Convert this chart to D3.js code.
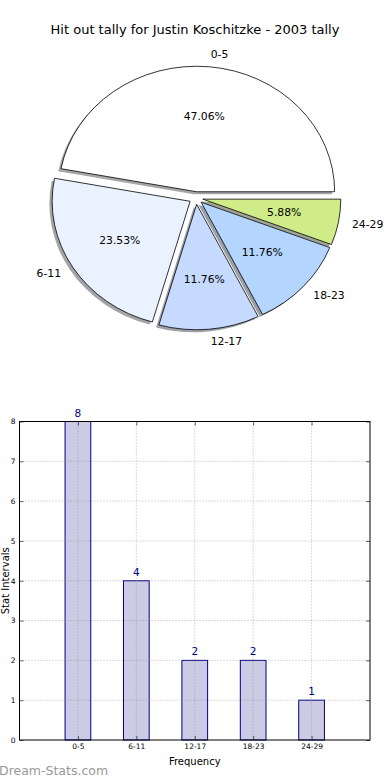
<!DOCTYPE html>
<html><head><meta charset="utf-8">
<script src="https://cdn.jsdelivr.net/npm/d3@7"></script>
<style>body{margin:0;background:#fff}svg{display:block;font-family:"DejaVu Sans",sans-serif}</style>
</head><body><svg id="c" width="390" height="780"></svg>
<script>
const title = "Hit out tally for Justin Koschitzke - 2003 tally";
const categories = ["0-5", "6-11", "12-17", "18-23", "24-29"];
const values = [8, 4, 2, 2, 1];
const pieColors = ["#ffffff", "#ebf2ff", "#c6d9ff", "#b3d5ff", "#cfec88"];
const explode = [0.05, 0.05, 0.05, 0.05, 0.05];
const yTicks = [0, 1, 2, 3, 4, 5, 6, 7, 8];
const xLabel = "Frequency";
const yLabel = "Stat Intervals";
const watermark = "Dream-Stats.com";

const svg = d3.select("#c");
svg.append("text").attr("x", 195).attr("y", 34).attr("text-anchor", "middle")
  .attr("font-size", 13).attr("fill", "#000").text(title);

// ---- Pie ----
const cx = 196, cy = 198, rx = 138, ry = 125.5;
const sum = d3.sum(values);
const arcs = d3.pie().sort(null).startAngle(Math.PI / 2).endAngle(Math.PI / 2 - 2 * Math.PI)(values);
const arc = d3.arc().innerRadius(0).outerRadius(100);
const pg = svg.append("g");
function off(d, i) {
  const a = (d.startAngle + d.endAngle) / 2;
  return [cx + explode[i] * rx * Math.sin(a), cy - explode[i] * ry * Math.cos(a), a];
}
function shade(c) { const r = d3.rgb(c); return d3.rgb(r.r * 0.3, r.g * 0.3, r.b * 0.3).toString(); }
arcs.forEach((d, i) => {
  const [ox, oy] = off(d, i);
  pg.append("path").attr("d", arc(d))
    .attr("transform", `translate(${ox - 0.02 * rx},${oy + 0.02 * ry}) scale(${rx / 100},${ry / 100})`)
    .attr("fill", shade(pieColors[i])).attr("fill-opacity", 0.5).attr("stroke", "none");
});
arcs.forEach((d, i) => {
  const [ox, oy] = off(d, i);
  pg.append("path").attr("d", arc(d))
    .attr("transform", `translate(${ox},${oy}) scale(${rx / 100},${ry / 100})`)
    .attr("fill", pieColors[i]).attr("stroke", "#000").attr("stroke-width", 0.8)
    .attr("vector-effect", "non-scaling-stroke");
});
arcs.forEach((d, i) => {
  const [ox, oy, a] = off(d, i);
  const s = Math.sin(a), c = Math.cos(a);
  pg.append("text").attr("x", ox + 1.1 * rx * s).attr("y", oy - 1.1 * ry * c)
    .attr("text-anchor", s > 0 ? "start" : "end").attr("dominant-baseline", "central")
    .attr("font-size", 10.8).text(categories[i]);
  pg.append("text").attr("x", ox + 0.6 * rx * s).attr("y", oy - 0.6 * ry * c)
    .attr("text-anchor", "middle").attr("dominant-baseline", "central")
    .attr("font-size", 10.8).text((values[i] / sum * 100).toFixed(2) + "%");
});

// ---- Bars ----
const L = 19.5, R = 370, T = 421.5, B = 740;
const x = d3.scaleLinear().domain([0, categories.length + 1]).range([L, R]);
const y = d3.scaleLinear().domain([0, 8]).range([B, T]);
const xt = categories.map((c, i) => i + 1);
const bw = x(0.44) - x(0);
const bg = svg.append("g");
bg.selectAll("rect.bar").data(values).join("rect").attr("class", "bar")
  .attr("x", (v, i) => x(i + 1) - bw / 2).attr("width", bw)
  .attr("y", v => y(v)).attr("height", v => y(0) - y(v))
  .attr("fill", "#cbcbe5").attr("stroke", "#000080").attr("stroke-width", 1);
// grid
bg.selectAll("line.hg").data(yTicks.slice(1, -1)).join("line").attr("class", "hg")
  .attr("x1", L).attr("x2", R).attr("y1", d => y(d)).attr("y2", d => y(d))
  .attr("stroke", "#888").attr("stroke-width", 0.6).attr("stroke-dasharray", "1,2");
bg.selectAll("line.vg").data(xt).join("line").attr("class", "vg")
  .attr("y1", T).attr("y2", B).attr("x1", d => x(d)).attr("x2", d => x(d))
  .attr("stroke", "#888").attr("stroke-width", 0.6).attr("stroke-dasharray", "1,2");
// value labels
bg.selectAll("text.vl").data(values).join("text").attr("class", "vl")
  .attr("x", (v, i) => x(i + 1)).attr("y", v => y(v) - 5).attr("text-anchor", "middle")
  .attr("font-size", 10.5).attr("fill", "#000080").text(v => v);
// axes
function styleAxis(g) {
  g.select(".domain").remove();
  g.selectAll(".tick line").attr("stroke", "#000").attr("stroke-width", 0.6);
  g.selectAll(".tick text").attr("font-family", "DejaVu Sans").attr("font-size", 7.5).attr("fill", "#000");
}
bg.append("g").attr("transform", `translate(${L},0)`)
  .call(d3.axisLeft(y).tickValues(yTicks).tickSize(-4).tickPadding(4)).call(styleAxis);
bg.append("g").attr("transform", `translate(${R},0)`)
  .call(d3.axisRight(y).tickValues(yTicks).tickSize(-4).tickFormat("")).call(styleAxis);
bg.append("g").attr("transform", `translate(0,${B})`)
  .call(d3.axisBottom(x).tickValues(xt).tickFormat(d => categories[d - 1]).tickSize(-4).tickPadding(4)).call(styleAxis);
bg.append("g").attr("transform", `translate(0,${T})`)
  .call(d3.axisTop(x).tickValues(xt).tickSize(-4).tickFormat("")).call(styleAxis);
bg.append("rect").attr("x", L).attr("y", T).attr("width", R - L).attr("height", B - T)
  .attr("fill", "none").attr("stroke", "#000").attr("stroke-width", 1);
bg.append("text").attr("x", x(3)).attr("y", 761).attr("text-anchor", "middle")
  .attr("dominant-baseline", "central").attr("font-size", 10).text(xLabel);
bg.append("text").attr("transform", `translate(8.5,${(T + B) / 2}) rotate(-90)`)
  .attr("text-anchor", "middle").attr("font-size", 10).text(yLabel);
svg.append("text").attr("x", -1).attr("y", 775).attr("font-size", 12.5)
  .attr("fill", "#999").text(watermark);
</script></body></html>
